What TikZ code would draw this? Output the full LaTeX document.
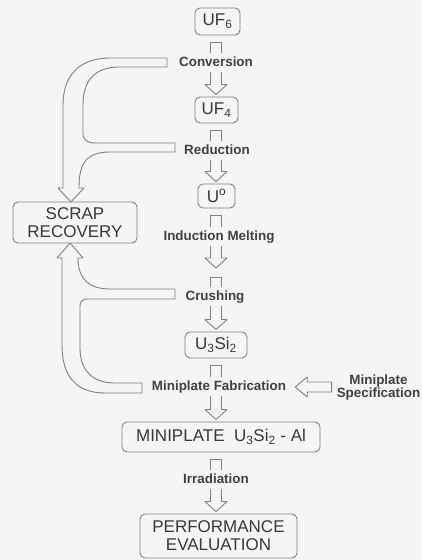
\documentclass[tikz,border=0pt]{standalone}
\usepackage{fontspec}
\setmainfont{Liberation Sans}
\usetikzlibrary{calc}

\tikzset{
  stage/.style={draw=black!50, line width=0.9pt, rounded corners=5pt, text=black!78,
    font=\fontsize{17}{18}\selectfont, inner sep=0pt},
  lbl/.style={inner sep=0pt, text height=10pt, text depth=3pt, text=black!75,
    font=\fontsize{13.4}{13}\selectfont\bfseries},
  pipe/.style={draw=black!50, line width=0.9pt, line join=round},
}

% open stem under a box: from #1 (above) to label #2
\newcommand{\capstem}[2]{%
  \draw[pipe] ($(#2 -| spine)+(-5.5,3.5)$) |- ($(#1 -| spine)+(5.5,-7)$) -- ($(#2 -| spine)+(5.5,3.5)$);}
% hollow arrow under a label: from #1 down to #2
\newcommand{\hollowdrop}[2]{%
  \draw[pipe] ($(#1 -| spine)+(-5.5,-2.5)$) -- ($(#2 -| spine)+(-5.5,12)$) -- ($(#2 -| spine)+(-11,12)$)
    -- ($(#2 -| spine)+(0,2)$) -- ($(#2 -| spine)+(11,12)$) -- ($(#2 -| spine)+(5.5,12)$) -- ($(#1 -| spine)+(5.5,-2.5)$);}

\begin{document}
\begin{tikzpicture}[x=1pt,y=1pt]
	\fill[black!4] (0,0) rectangle (421,560);
	\useasboundingbox (0,0) rectangle (421,560);
	\coordinate (spine) at (216,0);
	\coordinate (melt) at (216,290);

	% products
	\node[stage, minimum width=45pt, minimum height=27pt] (uf6) at (217.5,538.5) {UF\textsubscript{6}};
	\node[stage, minimum width=43pt, minimum height=26pt] (uf4) at (216.5,450) {UF\textsubscript{4}};
	\node[stage, minimum width=37pt, minimum height=24pt] (u0) at (216.5,364) {U\textsuperscript{o}};
	\node[stage, minimum width=62pt, minimum height=26pt] (u3si2) at (216,215) {U\textsubscript{3}Si\textsubscript{2}};
	\node[stage, minimum width=198pt, minimum height=30pt] (mini) at (221,123) {MINIPLATE\ \ U\textsubscript{3}Si\textsubscript{2} - Al};
	\node[stage, minimum width=157pt, minimum height=44pt, align=center] (perf) at (218.5,24) {PERFORMANCE\\EVALUATION};
	\node[stage, minimum width=124pt, minimum height=41pt, align=center] (scrap) at (75,337.5) {SCRAP\\RECOVERY};

	% steps
	\node[lbl] (conv) at (216,497) {Conversion};
	\node[lbl] (red) at (217,409) {Reduction};
	\node[lbl] (ind) at (219,323) {Induction Melting};
	\node[lbl] (crush) at (215,263) {Crushing};
	\node[lbl] (fab) at (219,173) {Miniplate Fabrication};
	\node[lbl] (irr) at (216,80) {Irradiation};
	\node[inner sep=0pt, align=center, text=black!75, font=\fontsize{13.4}{13}\selectfont\bfseries] (spec) at (378.5,172) {Miniplate\\Specification};

	\capstem{uf6.south}{conv.north}
	\hollowdrop{conv.south}{uf4.north}
	\capstem{uf4.south}{red.north}
	\hollowdrop{red.south}{u0.north}
	\capstem{u0.south}{ind.north}
	\hollowdrop{ind.south}{melt}
	\capstem{melt}{crush.north}
	\hollowdrop{crush.south}{u3si2.north}
	\capstem{u3si2.south}{fab.north}
	\hollowdrop{fab.south}{mini.north}
	\capstem{mini.south}{irr.north}
	\hollowdrop{irr.south}{perf.north}

	% specification feeds fabrication
	\draw[pipe] ($(fab.east)+(9,0)$) -- ++(12,10) -- ++(0,-5) -- ($(spec.west |- fab.east)+(-5,5)$) -- ++(0,-10)
		-- ($(fab.east)+(21,-5)$) -- ++(0,-5) -- cycle;

	% scrap returns
	\draw[pipe] (167,502) -- (110,502) .. controls (80,502) and (63,485) .. (63,455) -- (63,372) -- (58,372) -- (71,358)
		-- (84,372) -- (79,372) .. controls (79,395) and (85,408) .. (110,408) -- (175,408) -- (175,417) -- (96,417)
		.. controls (88,417) and (83,419) .. (83,427) -- (83,455) .. controls (83,480) and (95,493) .. (120,493) -- (167,493) -- cycle;
	\draw[pipe] (70,317) -- (83,302) -- (78,302) .. controls (78,280) and (90,271) .. (110,271) -- (175,271) -- (175,261)
		-- (88,261) .. controls (83,261) and (80,259) .. (80,254) -- (80,212) .. controls (80,187) and (95,177) .. (115,177)
		-- (142,177) -- (142,167) -- (105,167) .. controls (75,167) and (62,185) .. (62,215) -- (62,302) -- (57,302) -- cycle;
\end{tikzpicture}
\end{document}
